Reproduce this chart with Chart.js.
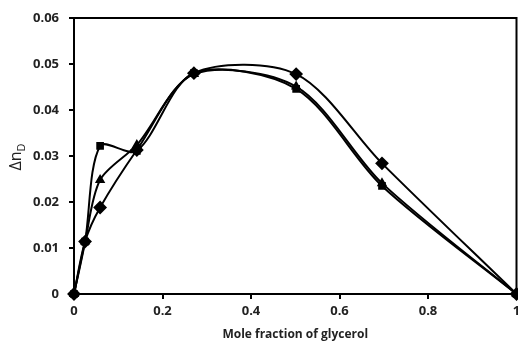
<!DOCTYPE html>
<html>
<head>
<meta charset="utf-8">
<script src="https://cdn.jsdelivr.net/npm/chart.js@4/dist/chart.umd.min.js"></script>
<style>
html,body{margin:0;padding:0;background:#fff;}
#wrap{width:518px;height:342px;position:relative;}
</style>
</head>
<body>
<div id="wrap"><canvas id="c" width="518" height="342"></canvas></div>
<script>
// Data
const molFraction = [0, 0.025, 0.059, 0.142, 0.271, 0.502, 0.696, 1];
const seriesDiamond = [0, 0.0114, 0.0188, 0.0313, 0.0480, 0.0478, 0.0284, 0];
const seriesSquare = [0, 0.0114, 0.0322, 0.0311, 0.0480, 0.0446, 0.0235, 0];
const seriesTriangle = [0, 0.0114, 0.0248, 0.0324, 0.0478, 0.0451, 0.0241, 0];
const xTicks = [0, 0.2, 0.4, 0.6, 0.8, 1];
const yTicks = [0, 0.01, 0.02, 0.03, 0.04, 0.05, 0.06];
const xTitle = 'Mole fraction of glycerol';
const yTitleMain = '\u0394n';
const yTitleSub = 'D';

function pts(ys){ return molFraction.map((x,i)=>({x:x,y:ys[i]})); }

const tickFont = {family:'"Open Sans", "DejaVu Sans", sans-serif', size:13, weight:'bold'};

const frame = {
  id:'frame',
  afterDatasetsDraw(chart){
    const {ctx, chartArea:a} = chart;
    ctx.save();
    ctx.strokeStyle='#000';
    ctx.lineWidth=2;
    ctx.beginPath();
    ctx.moveTo(a.left, a.top); ctx.lineTo(a.right, a.top); ctx.lineTo(a.right, a.bottom);
    ctx.stroke();
    // y title with subscript
    ctx.translate(16, 157);
    ctx.rotate(-Math.PI/2);
    ctx.fillStyle='#222';
    ctx.textBaseline='alphabetic';
    ctx.font='16px "Open Sans", "DejaVu Sans", sans-serif';
    const w1 = ctx.measureText(yTitleMain).width;
    ctx.font='11px "Open Sans", "DejaVu Sans", sans-serif';
    const w2 = ctx.measureText(yTitleSub).width;
    const start = -(w1+w2)/2;
    ctx.font='16px "Open Sans", "DejaVu Sans", sans-serif';
    ctx.fillText(yTitleMain, start, 5);
    ctx.font='11px "Open Sans", "DejaVu Sans", sans-serif';
    ctx.fillText(yTitleSub, start+w1, 9);
    ctx.restore();
  }
};

function ds(label, ys, style, r){
  return {
    label:label, data:pts(ys), showLine:true, borderColor:'#000', backgroundColor:'#000',
    borderWidth:2, pointStyle:style, pointRadius:r, pointHoverRadius:r, tension:0.3,
    clip:false
  };
}

new Chart(document.getElementById('c'), {
  type:'scatter',
  data:{datasets:[
    ds('A', seriesSquare, 'rect', 4),
    ds('B', seriesTriangle, 'triangle', 4),
    ds('C', seriesDiamond, 'rectRot', 5.5)
  ]},
  options:{
    responsive:false, animation:false,
    layout:{autoPadding:false, padding:{top:18, right:1.5, left:0, bottom:0}},
    plugins:{legend:{display:false}, tooltip:{enabled:false}},
    scales:{
      x:{
        type:'linear', min:0, max:1,
        afterFit(s){ s.height = 48; s.paddingLeft = 0; s.paddingRight = 0; },
        afterBuildTicks(s){ s.ticks = xTicks.map(v=>({value:v})); },
        ticks:{color:'#222', font:tickFont, padding:4, maxRotation:0,
          callback:(v)=>String(Math.round(v*10)/10)},
        grid:{display:true, drawOnChartArea:false, drawTicks:true, tickLength:5, color:'#000', lineWidth:2},
        border:{display:true, color:'#000', width:2},
        title:{display:true, text:xTitle, color:'#222', padding:{top:0,bottom:0},
          font:{family:'"Open Sans", "DejaVu Sans", sans-serif', size:12, weight:'bold'}}
      },
      y:{
        type:'linear', min:0, max:0.06,
        afterFit(s){ s.width = 74; s.paddingTop = 0; s.paddingBottom = 0; },
        afterBuildTicks(s){ s.ticks = yTicks.map(v=>({value:v})); },
        ticks:{color:'#222', font:tickFont, padding:10,
          callback:(v)=>String(Math.round(v*100)/100)},
        grid:{display:true, drawOnChartArea:false, drawTicks:true, tickLength:5, color:'#000', lineWidth:2},
        border:{display:true, color:'#000', width:2}
      }
    }
  },
  plugins:[frame]
});
</script>
</body>
</html>
